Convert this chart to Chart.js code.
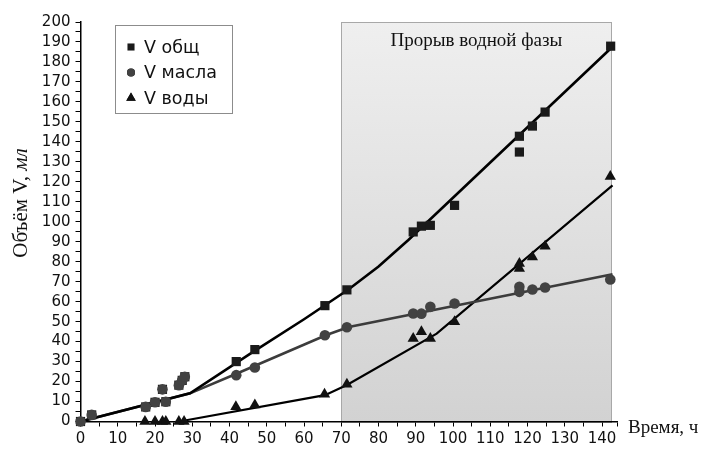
<!DOCTYPE html>
<html>
<head>
<meta charset="utf-8">
<script src="https://cdn.jsdelivr.net/npm/chart.js@4.4.1/dist/chart.umd.min.js"></script>
<style>
html,body{margin:0;padding:0;background:#fff;}
#wrap{width:704px;height:449px;}
</style>
</head>
<body>
<div id="wrap"><canvas id="c" width="704" height="449"></canvas></div>
<script>
// ---- data ----
const seriesLabels = ["V общ", "V масла", "V воды"];
const totalTime = [0, 3, 17.5, 20, 22, 22.9, 26.4, 27.3, 28, 41.8, 46.8, 65.6, 71.5, 89.3, 91.5, 93.9, 100.4, 117.8, 117.8, 121.3, 124.7, 142.3];
const totalVol  = [0, 3.3, 7.3, 9.6, 16.1, 9.9, 18.2, 20.6, 22.4, 30, 36, 58, 65.9, 94.9, 97.8, 98.2, 108.2, 142.8, 134.9, 147.9, 154.9, 187.9];
const oilTime   = [0, 3, 17.5, 20, 22, 22.9, 26.4, 27.3, 28, 41.8, 46.8, 65.6, 71.5, 89.3, 91.5, 93.9, 100.4, 117.8, 117.8, 121.3, 124.7, 142.2];
const oilVol    = [0, 3.3, 7.3, 9.6, 16.1, 9.9, 18.2, 20.6, 22.4, 23.2, 27, 43.2, 47.2, 54.1, 54, 57.4, 59.1, 67.4, 64.9, 66.1, 67.1, 71.1];
const waterTime = [17.3, 20, 22, 22.9, 26.4, 27.8, 41.7, 46.8, 65.5, 71.5, 89.3, 91.5, 93.9, 100.4, 117.8, 117.8, 121.3, 124.7, 142.2];
const waterVol  = [0, 0, 0, 0, 0, 0, 7.4, 8.2, 13.7, 18.7, 41.6, 44.9, 41.6, 49.9, 79.1, 76.6, 82.4, 87.7, 122.7];

const totalFitTime = [0, 29.4, 46, 60, 72, 80, 88, 142.8];
const totalFitVol  = [0, 14.1, 34.5, 51.2, 66.2, 77.6, 90.9, 187.6];
const oilFitTime   = [0, 29.4, 42, 66, 72, 142.8];
const oilFitVol    = [0, 14.1, 24, 43.3, 47.3, 73.7];
const waterFitTime = [28, 65.6, 71.5, 95.6, 142.8];
const waterFitVol  = [0.5, 13.2, 18.3, 44, 118.2];

const xTickValues = [0,5,10,15,20,25,30,35,40,45,50,55,60,65,70,75,80,85,90,95,100,105,110,115,120,125,130,135,140,144];
const xTickLabels = [0,10,20,30,40,50,60,70,80,90,100,110,120,130,140];

const breakthroughStart = 70;
const breakthroughEnd = 142.5;
const breakthroughLabel = "Прорыв водной фазы";
const xTitle = "Время, ч";
const yTitleMain = "Объём V, ";
const yTitleUnit = "мл";
const xMin = 0, xMax = 144, yMin = 0, yMax = 200;

const pts = (xs, ys) => xs.map((x, i) => ({x: x, y: ys[i]}));

const shadePlugin = {
  id: 'shade',
  beforeDraw(chart) {
    const {ctx, scales: {x, y}} = chart;
    const x1 = x.getPixelForValue(breakthroughStart);
    const x2 = x.getPixelForValue(breakthroughEnd);
    const y1 = y.getPixelForValue(yMax);
    const y2 = y.getPixelForValue(yMin);
    ctx.save();
    const g = ctx.createLinearGradient(0, y1, 0, y2);
    g.addColorStop(0, '#efefef');
    g.addColorStop(1, '#d2d2d2');
    ctx.fillStyle = g;
    ctx.fillRect(x1, y1, x2 - x1, y2 - y1);
    ctx.strokeStyle = '#a8a8a8';
    ctx.lineWidth = 1;
    ctx.strokeRect(Math.round(x1) + 0.5, Math.round(y1) + 0.5, Math.round(x2 - x1), Math.round(y2 - y1));
    ctx.fillStyle = '#111';
    ctx.font = '19px "Liberation Serif", "Times New Roman", serif';
    ctx.textAlign = 'center';
    ctx.textBaseline = 'middle';
    ctx.fillText(breakthroughLabel, (x1 + x2) / 2, y1 + 19);
    ctx.restore();
  }
};

const textPlugin = {
  id: 'texts',
  afterDraw(chart) {
    const {ctx, chartArea} = chart;
    ctx.save();
    ctx.fillStyle = '#111';
    ctx.font = '19px "Liberation Serif", "Times New Roman", serif';
    ctx.textAlign = 'left';
    ctx.textBaseline = 'middle';
    ctx.fillText(xTitle, chartArea.right + 11, chartArea.bottom + 7);
    const f1 = '21px "Liberation Serif", "Times New Roman", serif';
    const f2 = 'italic 21px "Liberation Serif", "Times New Roman", serif';
    ctx.font = f1; const w1 = ctx.measureText(yTitleMain).width;
    ctx.font = f2; const w2 = ctx.measureText(yTitleUnit).width;
    ctx.translate(21, 203);
    ctx.rotate(-Math.PI / 2);
    ctx.textAlign = 'left';
    ctx.font = f1;
    ctx.fillText(yTitleMain, -(w1 + w2) / 2, 0);
    ctx.font = f2;
    ctx.fillText(yTitleUnit, -(w1 + w2) / 2 + w1, 0);
    ctx.restore();

    // legend
    ctx.save();
    const bx = 115.5, by = 25.5, bw = 117, bh = 88;
    ctx.fillStyle = '#fff';
    ctx.fillRect(bx, by, bw, bh);
    ctx.strokeStyle = '#8c8c8c';
    ctx.lineWidth = 1;
    ctx.strokeRect(bx, by, bw, bh);
    const items = chart.data.datasets.filter(d => d.inLegend);
    items.forEach((d, i) => {
      const cy = 47 + i * 25.5;
      Chart.helpers.drawPoint(ctx, {
        pointStyle: d.pointStyle, radius: d.legendRadius, rotation: 0, borderWidth: 0
      }, 131, cy);
      ctx.fillStyle = d.pointBackgroundColor;
      ctx.fill();
      ctx.fillStyle = '#111';
      ctx.font = '17.5px "DejaVu Sans", sans-serif';
      ctx.textAlign = 'left';
      ctx.textBaseline = 'middle';
      ctx.fillText(d.label, 144, cy + 1);
    });
    ctx.restore();
  }
};

const tickFont = {family: '"DejaVu Sans", sans-serif', size: 15};

new Chart(document.getElementById('c'), {
  type: 'scatter',
  data: {
    datasets: [
      {label: seriesLabels[0], inLegend: true, order: 2, data: pts(totalTime, totalVol), pointStyle: 'rect', pointRadius: 6.5, legendRadius: 5,
       pointBackgroundColor: '#1a1a1a', pointBorderWidth: 0, showLine: false, clip: false},
      {label: seriesLabels[1], inLegend: true, order: 1, data: pts(oilTime, oilVol), pointStyle: 'circle', pointRadius: 5.3, legendRadius: 4,
       pointBackgroundColor: '#424242', pointBorderWidth: 0, showLine: false, clip: false},
      {label: seriesLabels[2], inLegend: true, order: 2, data: pts(waterTime, waterVol), pointStyle: 'triangle', pointRadius: 6.5, legendRadius: 5.5,
       pointBackgroundColor: '#111', pointBorderWidth: 0, showLine: false, clip: false},
      {label: 'fit1', order: 5, data: pts(totalFitTime, totalFitVol), showLine: true, pointRadius: 0, borderColor: '#000', borderWidth: 2.6, tension: 0, clip: false},
      {label: 'fit2', order: 5, data: pts(oilFitTime, oilFitVol), showLine: true, pointRadius: 0, borderColor: '#3c3c3c', borderWidth: 2.6, tension: 0, clip: false},
      {label: 'fit3', order: 5, data: pts(waterFitTime, waterFitVol), showLine: true, pointRadius: 0, borderColor: '#000', borderWidth: 2.2, tension: 0, clip: false}
    ]
  },
  options: {
    responsive: false,
    animation: false,
    devicePixelRatio: 1,
    layout: {padding: {top: 22, right: 87, left: 0, bottom: 0}},
    plugins: {legend: {display: false}, tooltip: {enabled: false}},
    scales: {
      x: {
        type: 'linear', min: xMin, max: xMax,
        afterFit(s) { s.height = 27.5; },
        afterBuildTicks(s) { s.ticks = xTickValues.map(v => ({value: v})); },
        ticks: {autoSkip: false, maxRotation: 0, padding: 4, color: '#111', font: tickFont,
          callback: v => xTickLabels.includes(v) ? String(v) : ''},
        grid: {display: true, drawOnChartArea: false, drawTicks: true, tickLength: 5, color: '#000', lineWidth: 1},
        border: {display: true, color: '#000', width: 1.5}
      },
      y: {
        type: 'linear', min: yMin, max: yMax,
        afterFit(s) { s.width = 80.5; },
        ticks: {stepSize: 5, autoSkip: false, padding: 5, color: '#111', font: tickFont,
          callback: v => (v % 10 === 0) ? String(v) : ''},
        grid: {display: true, drawOnChartArea: false, drawTicks: true, tickLength: 5, color: '#000', lineWidth: 1},
        border: {display: true, color: '#000', width: 1.5}
      }
    }
  },
  plugins: [shadePlugin, textPlugin]
});
</script>
</body>
</html>
